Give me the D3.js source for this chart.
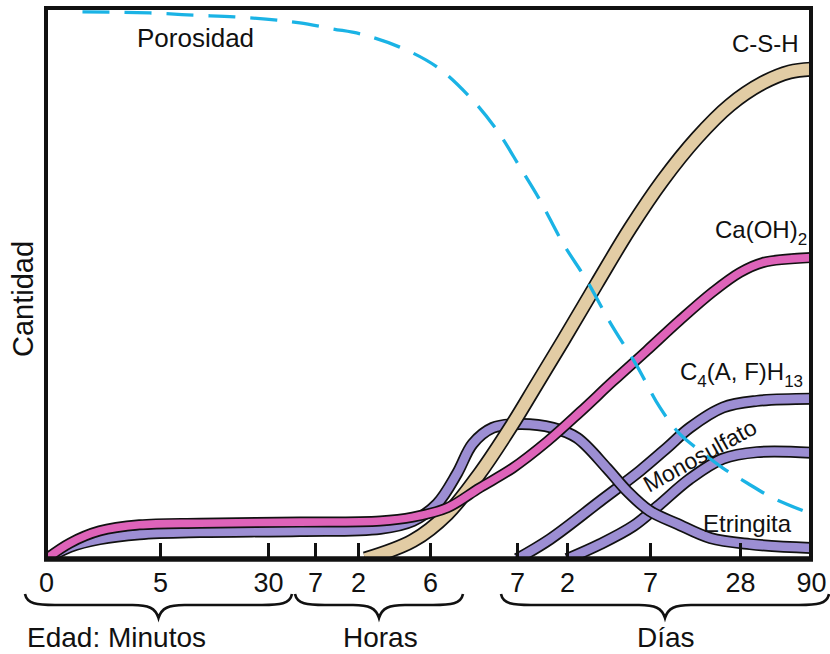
<!DOCTYPE html>
<html>
<head>
<meta charset="utf-8">
<script src="https://cdn.jsdelivr.net/npm/d3@7"></script>
<style>
body { margin: 0; background: #fff; }
text { font-family: "Liberation Sans", Arial, Helvetica, sans-serif; fill: #111; }
</style>
</head>
<body>
<div id="chart-area"></div>
<script>
/*
*    Hidratación del cemento: productos vs. edad
*/

// x axis: ticks are at index 0..10 (non uniform time scale)
let tickLabels = ["0", "5", "30", "7", "2", "6", "7", "2", "7", "28", "90"];
let groupLabels = ["Edad: Minutos", "Horas", "Días"];

// series: [tick index, cantidad 0-100]
let porosidad = [[0.32,99.3],[0.91,99.1],[1.31,98.7],[1.69,98.4],[2.19,97.8],[2.68,97.3],[3.42,96.2],
    [4.03,95.3],[4.58,92.9],[5.08,89.3],[5.46,83.8],[5.77,77.8],[6.06,71.1],[6.46,65.1],[6.92,57.3],
    [7.24,50.5],[7.52,42.9],[7.84,35.1],[8.11,27.5],[8.33,22.7],[8.56,19.6],[8.81,16.5],[9.10,13.8],
    [9.46,11.1],[10,8.2]];

let csh = [[4.1,0],[4.76,3.3],[5.20,8.2],[5.57,15.5],[5.95,24.5],[6.40,31.8],[6.92,39.6],[7.36,50.0],
    [7.76,60.0],[8.14,68.7],[8.52,76.4],[8.89,82.4],[9.32,86.4],[9.70,88.4],[10,88.9]];

let caoh2 = [[0,0],[0.21,2.9],[0.47,5.1],[0.82,6.2],[1.37,6.5],[2.68,6.7],[4.31,6.9],[4.76,7.6],
    [5.20,9.3],[5.57,12.9],[5.95,16.5],[6.60,21.3],[7.16,26.7],[7.55,32.2],[7.96,37.8],[8.33,43.3],
    [8.70,48.5],[9.0,52.0],[9.32,53.8],[10,54.7]];

let etringita = [[0,0],[0.21,2.2],[0.47,3.6],[0.82,4.5],[1.37,4.9],[2.68,5.1],[4.31,5.5],[4.76,6.9],
    [5.08,10.0],[5.31,15.5],[5.49,20.9],[5.72,23.8],[6.06,24.5],[6.72,23.8],[7.12,22.0],[7.48,16.5],
    [7.72,12.4],[8.0,8.7],[8.30,6.4],[8.67,3.8],[9.14,2.7],[10,2.0]];

let c4afh13 = [[6.0,0],[6.66,3.6],[7.40,10.5],[7.88,16.0],[8.19,20.2],[8.44,23.8],[8.81,27.5],[9.24,28.7],[10,29.1]];

let monosulfato = [[7.0,0],[7.40,2.7],[7.80,6.0],[8.08,9.5],[8.44,14.5],[8.81,18.2],[9.24,19.4],[10,19.3]];

let margin = { left:46, right:19, top:8, bottom:95 };

let width = 830 - margin.left - margin.right,
    height = 654 - margin.top - margin.bottom;

let purple = "#9c8ed3",
    tan = "#e2cca4",
    pink = "#de63b9",
    cyan = "#1ab3e5";

let svg = d3.select("#chart-area")
    .append("svg")
    .attr("width", 830)
    .attr("height", 654);

let g = svg.append("g")
    .attr("transform", "translate(" + margin.left + "," + margin.top + ")");

// X Scale (piecewise, one stop per tick)
let x = d3.scaleLinear()
    .domain(d3.range(tickLabels.length))
    .range([0, 114, 222, 269, 312, 384, 471, 521, 604, 694, width]);

// Y Scale
let y = d3.scaleLinear()
    .domain([0, 100])
    .range([height, 0]);

svg.append("defs").append("clipPath")
    .attr("id", "plot-clip")
    .append("rect")
    .attr("width", width)
    .attr("height", height);

let plot = g.append("g").attr("clip-path", "url(#plot-clip)");

let line = d3.line()
    .x(function(d){ return x(d[0]); })
    .y(function(d){ return y(d[1]); })
    .curve(d3.curveCatmullRom.alpha(0.5));

// outlined band: black stroke underneath, colour on top
function band(data, color, w) {
    plot.append("path")
        .datum(data)
        .attr("fill", "none")
        .attr("stroke", "#111")
        .attr("stroke-width", w)
        .attr("d", line);
    plot.append("path")
        .datum(data)
        .attr("fill", "none")
        .attr("stroke", color)
        .attr("stroke-width", w - 3.4)
        .attr("d", line);
}

band(monosulfato, purple, 12);
band(c4afh13, purple, 12);
band(etringita, purple, 12);
band(csh, tan, 15);
band(caoh2, pink, 11);

// Porosity
plot.append("path")
    .datum(porosidad)
    .attr("fill", "none")
    .attr("stroke", cyan)
    .attr("stroke-width", 3.3)
    .attr("stroke-dasharray", "27,15")
    .attr("d", line);

// X Axis
let xAxisCall = d3.axisBottom(x)
    .tickValues(d3.range(tickLabels.length))
    .tickFormat(function(d, i){ return tickLabels[i]; })
    .tickSizeInner(-16)
    .tickSizeOuter(0)
    .tickPadding(14);

let xAxis = g.append("g")
    .attr("class", "x axis")
    .attr("transform", "translate(0," + height + ")")
    .attr("font-family", null)
    .call(xAxisCall);
xAxis.select(".domain").remove();
xAxis.selectAll("line")
    .attr("stroke", "#111")
    .attr("stroke-width", 3);
xAxis.selectAll("text")
    .attr("font-size", "27px");

// frame
g.append("rect")
    .attr("width", width)
    .attr("height", height)
    .attr("fill", "none")
    .attr("stroke", "#111")
    .attr("stroke-width", 4);
g.append("line")
    .attr("x1", -2).attr("x2", width + 2)
    .attr("y1", height).attr("y2", height)
    .attr("stroke", "#111")
    .attr("stroke-width", 5.5);

// curve labels
g.append("text").attr("x", 91).attr("y", 39).attr("font-size", "26px").text("Porosidad");
g.append("text").attr("x", 686).attr("y", 44).attr("font-size", "24px").text("C-S-H");

let caLabel = g.append("text").attr("x", 669).attr("y", 230).attr("font-size", "24px");
caLabel.append("tspan").text("Ca(OH)");
caLabel.append("tspan").attr("font-size", "17px").attr("dy", 7).text("2");

let c4Label = g.append("text").attr("x", 634).attr("y", 372).attr("font-size", "24px");
c4Label.append("tspan").text("C");
c4Label.append("tspan").attr("font-size", "17px").attr("dy", 7).text("4");
c4Label.append("tspan").attr("dy", -7).text("(A, F)H");
c4Label.append("tspan").attr("font-size", "17px").attr("dy", 7).text("13");

g.append("text")
    .attr("transform", "translate(603,485) rotate(-29)")
    .attr("font-size", "23px")
    .text("Monosulfato");

g.append("text").attr("x", 657).attr("y", 524).attr("font-size", "24px").text("Etringita");

// Y Label
svg.append("text")
    .attr("transform", "translate(33,299) rotate(-90)")
    .attr("text-anchor", "middle")
    .attr("font-size", "29px")
    .text("Cantidad");

// braces under the axis
function bracePath(x1, x2, y0) {
    let m = (x1 + x2) / 2, b = y0 + 11, t = y0 + 24;
    return "M" + x1 + "," + y0 +
        " C" + (x1 + 2) + "," + (b - 1) + " " + (x1 + 12) + "," + b + " " + (x1 + 30) + "," + b +
        " L" + (m - 26) + "," + b +
        " C" + (m - 10) + "," + b + " " + (m - 3) + "," + (b + 3) + " " + m + "," + t +
        " C" + (m + 3) + "," + (b + 3) + " " + (m + 10) + "," + b + " " + (m + 26) + "," + b +
        " L" + (x2 - 30) + "," + b +
        " C" + (x2 - 12) + "," + b + " " + (x2 - 2) + "," + (b - 1) + " " + x2 + "," + y0;
}

let braces = [[25, 292, 594], [295, 463, 594], [501, 829, 594]];
svg.selectAll(".brace")
    .data(braces)
    .enter()
    .append("path")
        .attr("class", "brace")
        .attr("fill", "none")
        .attr("stroke", "#111")
        .attr("stroke-width", 2.6)
        .attr("d", function(d){ return bracePath(d[0], d[1], d[2]); });

let groupX = [27, 343, 637];
svg.selectAll(".group-label")
    .data(groupLabels)
    .enter()
    .append("text")
        .attr("class", "group-label")
        .attr("x", function(d, i){ return groupX[i]; })
        .attr("y", 647)
        .attr("font-size", "28px")
        .text(function(d){ return d; });
</script>
</body>
</html>
